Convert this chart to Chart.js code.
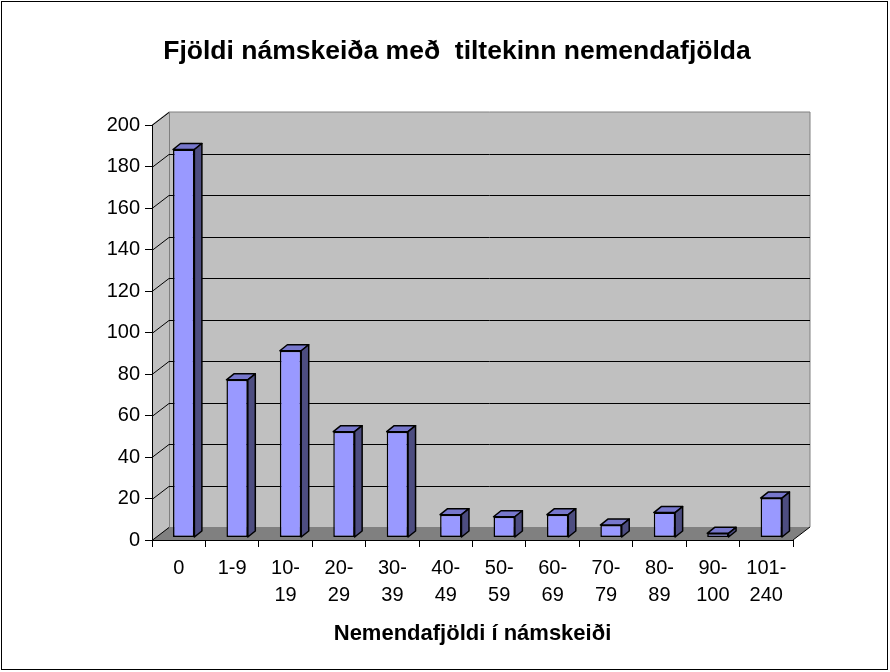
<!DOCTYPE html>
<html><head><meta charset="utf-8">
<script src="https://cdn.jsdelivr.net/npm/chart.js@4.4.0/dist/chart.umd.min.js"></script>
<style>html,body{margin:0;padding:0;background:#fff}canvas{display:block}</style>
</head><body>
<canvas id="c" width="890" height="672"></canvas>
<script>
const categories = [['0'], ['1-9'], ['10-', '19'], ['20-', '29'], ['30-', '39'], ['40-', '49'], ['50-', '59'], ['60-', '69'], ['70-', '79'], ['80-', '89'], ['90-', '100'], ['101-', '240']];
const courseCounts = [187, 76, 90, 51, 51, 11, 10, 11, 6, 12, 2, 19];
const yTickValues = [0, 20, 40, 60, 80, 100, 120, 140, 160, 180, 200];
const chartTitle = 'Fjöldi námskeiða með  tiltekinn nemendafjölda';
const xAxisTitle = 'Nemendafjöldi í námskeiði';

const FONT = "'Liberation Sans', Arial, sans-serif";
const WALL_DX = 17, WALL_DY = -13;
const BAR_OX = 5, BAR_OY = -2.5;
const BAR_DX = 7.5, BAR_DY = -6;

const threeD = {
  id: 'threeD',
  beforeDraw(chart) {
    const ctx = chart.ctx, ca = chart.chartArea, y = chart.scales.y;
    const L = ca.left, R = ca.right, T = ca.top, B = ca.bottom;
    ctx.save();
    ctx.fillStyle = '#fff';
    ctx.fillRect(0, 0, chart.width, chart.height);
    ctx.fillStyle = '#C0C0C0';
    ctx.beginPath();
    ctx.moveTo(L, T); ctx.lineTo(L + WALL_DX, T + WALL_DY); ctx.lineTo(L + WALL_DX, B + WALL_DY); ctx.lineTo(L, B);
    ctx.closePath(); ctx.fill();
    ctx.fillRect(L + WALL_DX, T + WALL_DY, R - L, B - T);
    ctx.fillStyle = '#808080';
    ctx.beginPath();
    ctx.moveTo(L, B); ctx.lineTo(L + WALL_DX, B + WALL_DY); ctx.lineTo(R + WALL_DX, B + WALL_DY); ctx.lineTo(R, B);
    ctx.closePath(); ctx.fill();
    ctx.strokeStyle = '#808080'; ctx.lineWidth = 1;
    ctx.beginPath();
    ctx.moveTo(L, T); ctx.lineTo(L + WALL_DX, T + WALL_DY);
    ctx.lineTo(R + WALL_DX, T + WALL_DY); ctx.lineTo(R + WALL_DX, B + WALL_DY);
    ctx.moveTo(L + WALL_DX + 0.5, T + WALL_DY); ctx.lineTo(L + WALL_DX + 0.5, B + WALL_DY);
    ctx.stroke();
    ctx.strokeStyle = '#000'; ctx.lineWidth = 1;
    yTickValues.forEach(v => {
      const py = Math.round(y.getPixelForValue(v)) + 0.5;
      ctx.beginPath();
      ctx.moveTo(L, py); ctx.lineTo(L + WALL_DX, py + WALL_DY);
      if (v !== 0 && v !== 200) ctx.lineTo(R + WALL_DX, py + WALL_DY);
      ctx.stroke();
    });
    ctx.beginPath();
    ctx.moveTo(R, B); ctx.lineTo(R + WALL_DX, B + WALL_DY);
    ctx.stroke();
    ctx.restore();
  },
  beforeDatasetsDraw(chart) {
    chart.ctx.save();
    chart.ctx.translate(BAR_OX, BAR_OY);
  },
  afterDatasetsDraw(chart) {
    const ctx = chart.ctx;
    ctx.restore();
    const meta = chart.getDatasetMeta(0);
    ctx.save();
    ctx.lineWidth = 1.5; ctx.strokeStyle = '#000'; ctx.lineJoin = 'round';
    meta.data.forEach(el => {
      const p = el.getProps(['x', 'y', 'base', 'width'], true);
      const l = p.x - p.width / 2 + BAR_OX, r = p.x + p.width / 2 + BAR_OX;
      const t = p.y + BAR_OY, b = p.base + BAR_OY;
      ctx.fillStyle = '#7777CC';
      ctx.beginPath();
      ctx.moveTo(l, t); ctx.lineTo(l + BAR_DX, t + BAR_DY); ctx.lineTo(r + BAR_DX, t + BAR_DY); ctx.lineTo(r, t);
      ctx.closePath(); ctx.fill(); ctx.stroke();
      ctx.fillStyle = '#4D4D80';
      ctx.beginPath();
      ctx.moveTo(r, t); ctx.lineTo(r + BAR_DX, t + BAR_DY); ctx.lineTo(r + BAR_DX, b + BAR_DY); ctx.lineTo(r, b);
      ctx.closePath(); ctx.fill(); ctx.stroke();
    });
    ctx.restore();
  },
  afterDraw(chart) {
    const ctx = chart.ctx;
    ctx.save();
    ctx.strokeStyle = '#000'; ctx.lineWidth = 1;
    ctx.strokeRect(1.5, 1.5, 886, 668);
    ctx.restore();
  }
};

new Chart(document.getElementById('c'), {
  type: 'bar',
  data: {
    labels: categories,
    datasets: [{
      data: courseCounts,
      backgroundColor: '#9999FF',
      borderColor: '#000',
      borderWidth: 1.5,
      borderSkipped: false,
      categoryPercentage: 1,
      barPercentage: 0.4
    }]
  },
  plugins: [threeD],
  options: {
    responsive: false,
    devicePixelRatio: 1,
    animation: false,
    layout: { padding: { left: 121, right: 97, top: 0, bottom: 0 } },
    plugins: {
      legend: { display: false },
      tooltip: { enabled: false },
      title: {
        display: true,
        text: chartTitle,
        color: '#000',
        font: { family: FONT, size: 26.5, weight: 'bold', lineHeight: 1.2 },
        padding: { top: 36.1, bottom: 57.1 }
      }
    },
    scales: {
      x: {
        offset: true,
        grid: { display: true, drawOnChartArea: false, drawTicks: true, tickLength: 7, color: '#000', offset: true },
        border: { display: true, color: '#000', width: 1 },
        ticks: { color: '#000', font: { family: FONT, size: 20, lineHeight: 1.35 }, padding: 8, maxRotation: 0, autoSkip: false },
        title: { display: true, text: xAxisTitle, color: '#000', font: { family: FONT, size: 22, weight: 'bold', lineHeight: 1.2 }, padding: { top: 0, bottom: 25 } },
        afterFit(s) { s.height = 132; }
      },
      y: {
        min: 0, max: 200,
        afterBuildTicks(s) { s.ticks = yTickValues.map(v => ({ value: v })); },
        grid: { display: true, drawOnChartArea: false, drawTicks: true, tickLength: 7, color: '#000' },
        border: { display: true, color: '#000', width: 1 },
        ticks: { color: '#000', font: { family: FONT, size: 20 }, padding: 5 },
        afterFit(s) { s.width = 31; s._computeLabelArea = function () { return undefined; }; }
      }
    }
  }
});
</script>
</body></html>
